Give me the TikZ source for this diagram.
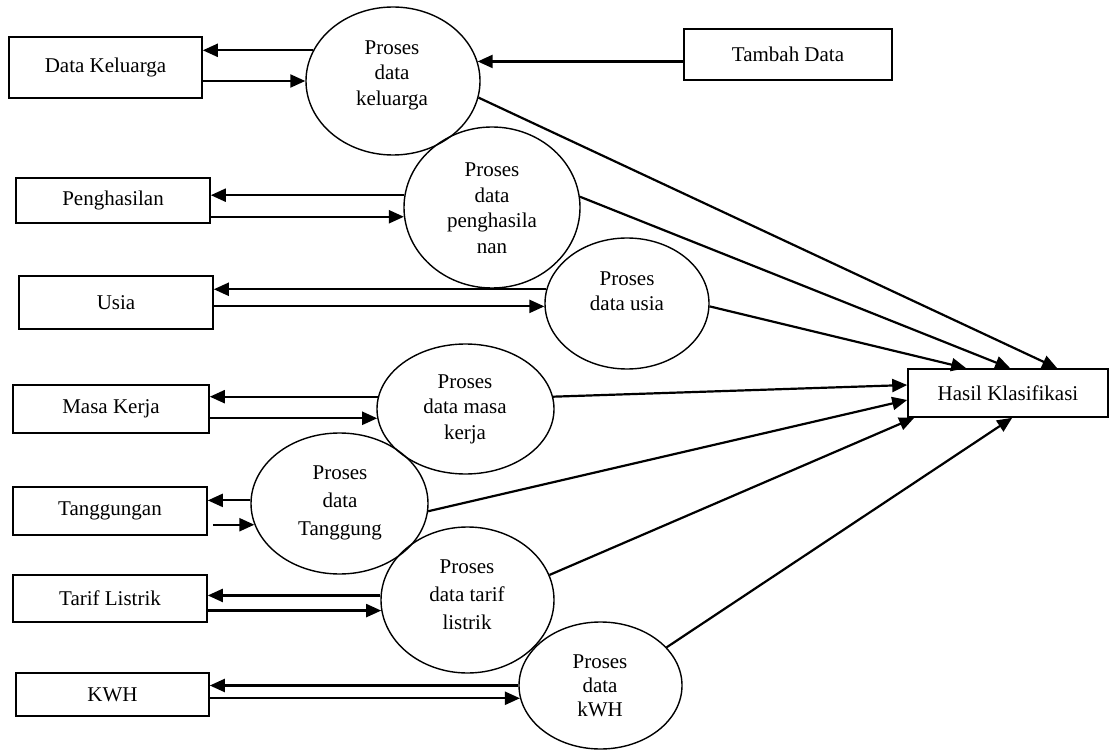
\documentclass[tikz,border=0pt]{standalone}
\usepackage{fontspec}
\setmainfont{Liberation Serif}
\usetikzlibrary{arrows.meta,calc,shapes.geometric}
\begin{document}
\begin{tikzpicture}[x=1pt,y=-1pt,
  font=\fontsize{21}{25.5}\selectfont,
  box/.style n args={2}{draw,line width=1.6pt,rectangle,minimum width=#1,minimum height=#2,inner sep=0pt},
  proc/.style n args={2}{draw,ellipse,line width=1.4pt,minimum width=#1,minimum height=#2,inner sep=0pt},
  txt/.style={align=center,inner sep=0pt},
  arr/.style={-{Triangle[length=15pt,width=13pt]},line width=2.2pt}]
\useasboundingbox (0,0) rectangle (1111,751);

% boxes
\node[box={193pt}{61pt}] (bK) at (105.5,67.5) {Data Keluarga};
\node[box={208pt}{51pt}] (bT) at (788,54.5) {Tambah Data};
\node[box={194pt}{45pt}] (bP) at (113,200.5) {Penghasilan};
\node[box={194pt}{53pt}] (bU) at (116,302.5) {Usia};
\node[box={196pt}{48pt}] (bM) at (111,409) {Masa Kerja};
\node[box={194pt}{48pt}] (bG) at (110,511) {Tanggungan};
\node[box={194pt}{47pt}] (bL) at (110,598.5) {Tarif Listrik};
\node[box={193pt}{43pt}] (bW) at (112.5,694.5) {KWH};
\node[box={200pt}{48pt}] (bH) at (1008,393) {Hasil Klasifikasi};

% processes
\node[proc={174pt}{148pt}] (eK) at (393,81) {};
\node[proc={176pt}{161pt}] (eP) at (492,207.5) {};
\node[proc={164pt}{131pt}] (eU) at (627,303.5) {};
\node[proc={177pt}{130pt}] (eM) at (465.5,409) {};
\node[proc={177pt}{141pt}] (eG) at (339.5,503.5) {};
\node[proc={173pt}{146pt}] (eL) at (467.5,600) {};
\node[proc={163pt}{127pt}] (eW) at (600.5,685.5) {};

\node[txt] (tK) at (392,75) {Proses\\data\\keluarga};
\node[txt] (tP) at (492,208) {Proses\\data\\penghasila\\nan};
\node[txt] (tU) at (627,291) {Proses\\data usia};
\node[txt] (tM) at (465,409) {Proses\\data masa\\kerja};
\node[txt] (tG) at (340,503) {Proses\\[2.5pt]data\\[2.5pt]Tanggung};
\node[txt] (tL) at (467,595) {Proses\\[2.5pt]data tarif\\[2.5pt]listrik};
\node[txt] (tW) at (600,686) {Proses\\[-1.5pt]data\\[-1.5pt]kWH};

% flows between stores and processes
\draw[arr] (eK.159) -- (bK.east |- eK.159);
\draw[arr] (bK.east |- eK.west) -- (eK.west);
\draw[arr] (bT.west |- eK.13) -- (eK.13);
\draw[arr] (eP.172) -- (bP.east |- eP.172);
\draw[arr] (bP.east |- eP.186) -- (eP.186);
\draw[arr] (eU.170) -- (bU.east |- eU.170);
\draw[arr] (bU.east |- eU.182) -- (eU.182);
\draw[arr] (eM.172) -- (bM.east |- eM.172);
\draw[arr] (bM.east |- eM.186) -- (eM.186);
\draw[arr] (eG.178) -- (bG.east |- eG.178);
\draw[arr] ($(bG.east |- eG.194)+(5,0)$) -- (eG.194);
\draw[arr] (eL.177) -- (bL.east |- eL.177);
\draw[arr] (bL.east |- eL.187) -- (eL.187);
\draw[arr] (eW.180) -- (bW.east |- eW.180);
\draw[arr] (bW.east |- eW.189) -- (eW.189);

% flows to result
\draw[arr] (eK.-11) -- ($(bH.north west)+(150,0)$);
\draw[arr] (eP.7) -- ($(bH.north west)+(103,0)$);
\draw[arr] (eU.-2) -- ($(bH.north west)+(59,0)$);
\draw[arr] (eM.8) -- ($(bH.west)+(0,-8)$);
\draw[arr] (eG.-5) -- ($(bH.west)+(0,7)$);
\draw[arr] (eL.17) -- ($(bH.south west)+(7,0)$);
\draw[arr] (eW.30) -- ($(bH.south west)+(105,0)$);
\end{tikzpicture}
\end{document}
